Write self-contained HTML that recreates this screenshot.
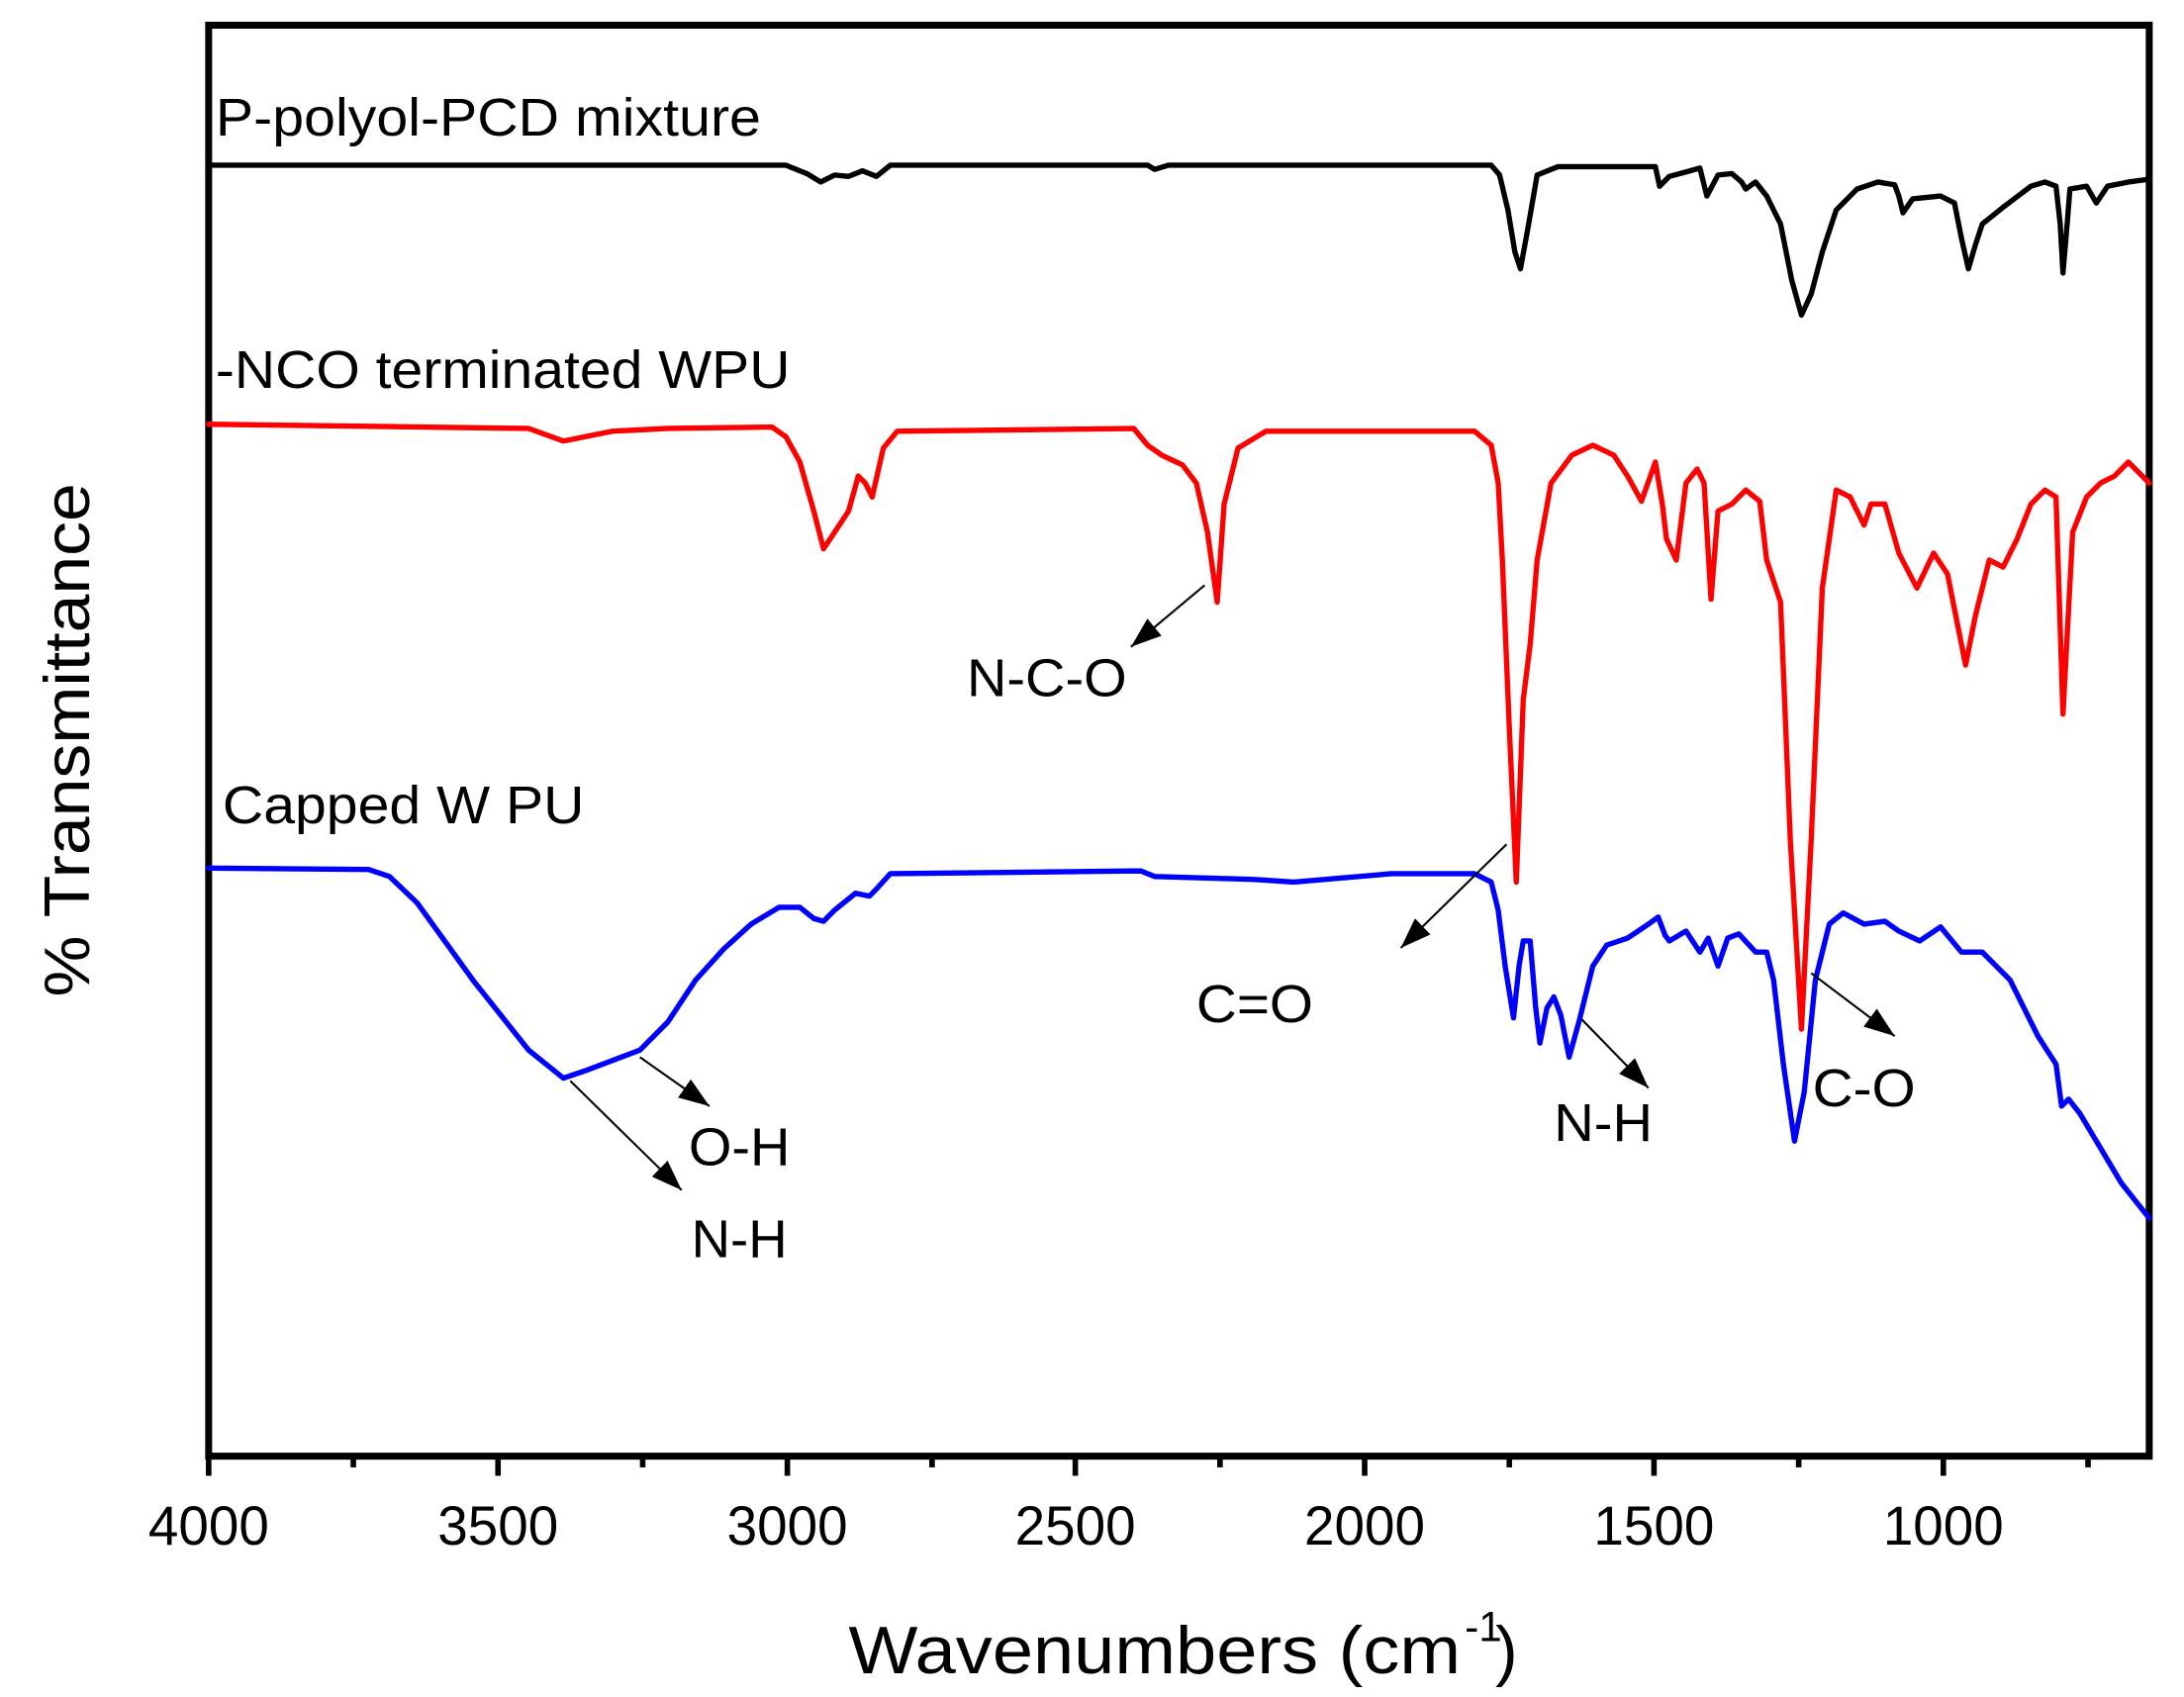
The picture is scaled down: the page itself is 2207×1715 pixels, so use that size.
<!DOCTYPE html>
<html><head><meta charset="utf-8"><style>html,body{margin:0;padding:0;background:#fff}svg{display:block}</style></head>
<body>
<svg width="2207" height="1715" viewBox="0 0 1570 1212" preserveAspectRatio="none" xmlns="http://www.w3.org/2000/svg" font-family="Liberation Sans, Arial, sans-serif">
<defs>
<marker id="ah2" viewBox="0 0 10 10" markerWidth="22" markerHeight="16" refX="10" refY="5" orient="auto" markerUnits="userSpaceOnUse" preserveAspectRatio="none"><path d="M0,0 L10,5 L0,10 Z" fill="#000"/></marker></defs>
<rect x="150" y="18" width="1395" height="1022" fill="none" stroke="#000" stroke-width="5"/>
<g stroke="#000" stroke-width="4">
<line x1="150" y1="1040" x2="150" y2="1054"/><line x1="254" y1="1040" x2="254" y2="1048"/>
<line x1="358" y1="1040" x2="358" y2="1054"/><line x1="462" y1="1040" x2="462" y2="1048"/>
<line x1="566" y1="1040" x2="566" y2="1054"/><line x1="670" y1="1040" x2="670" y2="1048"/>
<line x1="773" y1="1040" x2="773" y2="1054"/><line x1="877" y1="1040" x2="877" y2="1048"/>
<line x1="981" y1="1040" x2="981" y2="1054"/><line x1="1085" y1="1040" x2="1085" y2="1048"/>
<line x1="1189" y1="1040" x2="1189" y2="1054"/><line x1="1293" y1="1040" x2="1293" y2="1048"/>
<line x1="1397" y1="1040" x2="1397" y2="1054"/><line x1="1501" y1="1040" x2="1501" y2="1048"/>
</g>
<g font-size="39" text-anchor="middle" fill="#000">
<text x="150" y="1103">4000</text><text x="358" y="1103">3500</text><text x="566" y="1103">3000</text>
<text x="773" y="1103">2500</text><text x="981" y="1103">2000</text><text x="1189" y="1103">1500</text><text x="1397" y="1103">1000</text>
</g>
<text x="610" y="1195" font-size="48" textLength="440" lengthAdjust="spacingAndGlyphs">Wavenumbers (cm</text>
<text x="1053" y="1172" font-size="30">-1</text>
<text x="1075" y="1195" font-size="48">)</text>
<text transform="translate(64,712) rotate(-90)" font-size="46" textLength="367" lengthAdjust="spacingAndGlyphs">% Transmittance</text>
<g font-size="38" fill="#000">
<text x="155" y="97" textLength="392" lengthAdjust="spacingAndGlyphs">P-polyol-PCD mixture</text>
<text x="155" y="277" textLength="413" lengthAdjust="spacingAndGlyphs">-NCO terminated WPU</text>
<text x="160" y="588" textLength="260" lengthAdjust="spacingAndGlyphs">Capped W PU</text>
<text x="695" y="497" textLength="115" lengthAdjust="spacingAndGlyphs">N-C-O</text>
<text x="860" y="730" textLength="84" lengthAdjust="spacingAndGlyphs">C=O</text>
<text x="495" y="832" textLength="73" lengthAdjust="spacingAndGlyphs">O-H</text>
<text x="497" y="898" textLength="69" lengthAdjust="spacingAndGlyphs">N-H</text>
<text x="1117" y="815" textLength="71" lengthAdjust="spacingAndGlyphs">N-H</text>
<text x="1303" y="790" textLength="74" lengthAdjust="spacingAndGlyphs">C-O</text>
</g>
<g fill="none" stroke-width="3.8" stroke-linejoin="round" stroke-linecap="round">
<polyline stroke="#000" points="150,118 565,118 580,124 590,130 600,125 610,126 620,122 630,126 640,118 825,118 830,121 840,118 1072,118 1078,125 1084,150 1089,180 1093,192 1098,165 1105,125 1120,119 1190,119 1193,133 1200,126 1215,122 1222,120 1227,140 1235,125 1245,124 1252,130 1255,135 1262,130 1270,140 1280,160 1288,200 1295,225 1302,210 1310,180 1320,150 1335,135 1350,130 1362,132 1365,140 1368,152 1375,142 1395,140 1405,145 1410,170 1415,192 1420,175 1425,160 1440,148 1460,133 1470,130 1478,133 1481,160 1483,195 1486,160 1488,135 1500,133 1507,145 1515,133 1530,130 1545,128"/>
<polyline stroke="#f00" points="150,303 380,306 405,315 420,312 440,308 480,306 555,305 565,312 575,330 585,365 592,392 600,380 610,365 617,340 622,345 627,355 635,320 645,308 815,306 825,318 835,325 850,332 860,345 868,380 875,430 880,360 890,320 910,308 1060,308 1072,318 1077,345 1080,400 1085,520 1090,630 1095,500 1100,460 1105,400 1115,345 1130,325 1145,318 1160,325 1170,340 1180,358 1190,330 1195,360 1198,385 1205,400 1212,345 1220,335 1225,345 1230,428 1235,365 1245,360 1255,350 1265,358 1270,400 1280,430 1287,600 1295,735 1302,600 1310,420 1320,350 1330,355 1340,375 1345,360 1355,360 1365,395 1378,420 1390,395 1400,410 1413,475 1420,440 1430,400 1440,405 1450,385 1460,360 1470,350 1478,355 1483,510 1490,380 1500,355 1510,345 1520,340 1530,330 1545,345"/>
<polyline stroke="#00f" points="150,620 265,621 280,626 300,645 340,700 380,750 405,770 420,765 460,750 480,730 500,700 520,678 540,660 560,648 575,648 585,656 592,658 600,650 615,638 625,640 630,635 640,624 820,622 830,626 900,628 930,630 1000,624 1060,624 1072,630 1077,650 1082,690 1088,727 1092,690 1095,672 1100,672 1104,720 1107,745 1112,720 1117,712 1122,725 1128,755 1135,730 1145,690 1155,675 1170,670 1185,660 1192,655 1197,668 1200,672 1212,665 1222,680 1228,670 1235,690 1242,670 1250,667 1262,680 1270,680 1275,700 1282,760 1290,815 1297,780 1305,700 1315,660 1325,652 1340,660 1355,658 1365,665 1380,672 1395,662 1410,680 1425,680 1445,700 1465,740 1478,760 1482,790 1487,785 1495,795 1510,820 1525,845 1545,870"/>
</g>
<g stroke="#000" stroke-width="1.5" marker-end="url(#ah2)">
<line x1="866" y1="418" x2="813" y2="462"/>
<line x1="1083" y1="603" x2="1007" y2="677"/>
<line x1="460" y1="755" x2="510" y2="790"/>
<line x1="410" y1="772" x2="490" y2="850"/>
<line x1="1137" y1="728" x2="1185" y2="777"/>
<line x1="1302" y1="695" x2="1362" y2="740"/>
</g>
</svg>
</body></html>
